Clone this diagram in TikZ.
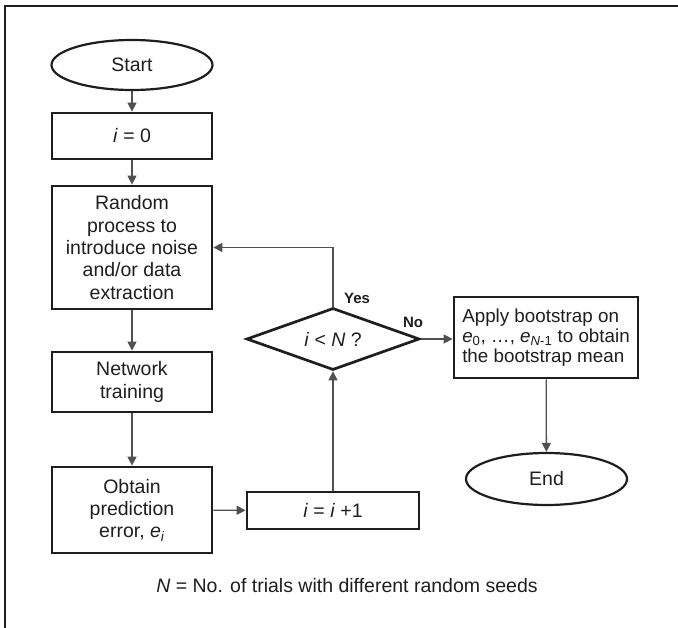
\documentclass[tikz,border=0pt]{standalone}
\usepackage{fontspec}
\setmainfont{Liberation Sans}
\usetikzlibrary{shapes.geometric,arrows.meta}
\definecolor{ink}{HTML}{1E1E1E}
\definecolor{wire}{HTML}{505050}
\tikzset{
  box/.style={draw=ink, line width=2.7pt, rectangle, inner sep=0pt, align=center, text=ink, font=\fontsize{19.5}{22.4}\selectfont},
  oval/.style={draw=ink, line width=2.2pt, ellipse, inner sep=0pt, text=ink, font=\fontsize{19.5}{22}\selectfont},
  dec/.style={draw=ink, line width=2.7pt, diamond, aspect=2.8, inner sep=0pt, text=ink, font=\fontsize{19.5}{22}\selectfont},
  arr/.style={draw=wire, line width=1.3pt, -{Triangle[length=9pt,width=9pt]}},
  lab/.style={font=\bfseries\fontsize{15}{17}\selectfont, text=ink, inner sep=0pt},
}
\begin{document}
\begin{tikzpicture}[x=1pt,y=-1pt]
\useasboundingbox (0,0) rectangle (678,628);
\draw[line width=2pt, ink] (5,628) -- (5,6.5) -- (678,6.5);
\node[oval, minimum width=161pt, minimum height=50pt] (start) at (132,65) {Start};
\node[box, minimum width=160pt, minimum height=46pt] (init) at (132,136) {\textit{i} = 0};
\node[box, minimum width=160pt, minimum height=123pt] (rand) at (132,247.5) {Random\\process to\\introduce noise\\and/or data\\extraction};
\node[box, minimum width=160pt, minimum height=60pt] (net) at (132,382) {Network\\training};
\node[box, minimum width=160pt, minimum height=86pt] (obt) at (132,510) {Obtain\\prediction\\error, \textit{e}\textsubscript{\textit{i}}};
\node[box, minimum width=172pt, minimum height=37pt] (inc) at (333,510.5) {\textit{i} = \textit{i} +1};
\node[dec, minimum width=173pt, minimum height=62pt] (dia) at (333,339) {\textit{i} < \textit{N} ?};
\node[box, minimum width=184pt, minimum height=81pt, align=left, font=\fontsize{18.8}{20}\selectfont] (app) at (546,337.5) {Apply bootstrap on\\\textit{e}\textsubscript{0}, \dots, \textit{e}\textsubscript{\textit{N}-1} to obtain\\the bootstrap mean};
\node[oval, minimum width=161pt, minimum height=52pt] (end) at (546.5,479) {End};
\node[lab] (yes) at (357,298) {Yes};
\node[lab] (no) at (413,322) {No};
\node[text=ink, font=\fontsize{19.5}{22}\selectfont, inner sep=0pt] (foot) at (347,586) {\textit{N} = No. of trials with different random seeds};
\draw[arr] (start) -- (init);
\draw[arr] (init) -- (rand);
\draw[arr] (rand) -- (net);
\draw[arr] (net) -- (obt);
\draw[arr] (obt) -- (inc);
\draw[arr] (inc) -- (dia);
\draw[arr] (dia.north) |- (rand.east);
\draw[arr] (dia.east) -- (app.west |- dia.east);
\draw[arr] (app) -- (end);
\end{tikzpicture}
\end{document}
